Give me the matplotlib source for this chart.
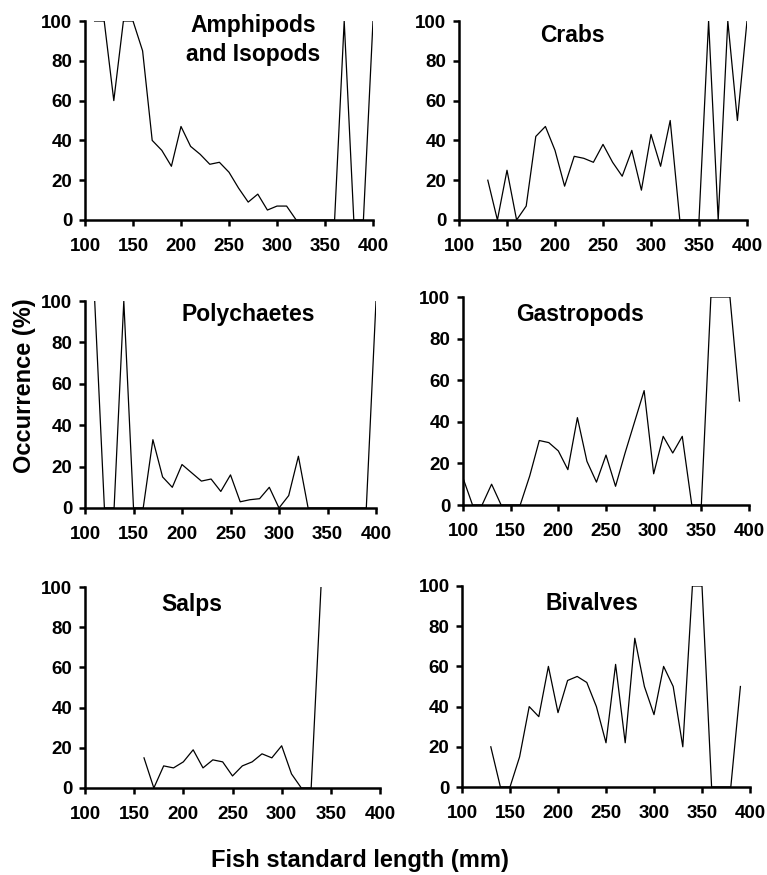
import numpy as np
import matplotlib
matplotlib.use("Agg")
import matplotlib.pyplot as plt

plt.rcParams['font.family'] = ['Liberation Sans', 'DejaVu Sans']
plt.rcParams['font.weight'] = 'bold'

nan = np.nan
lengths = np.arange(100, 401, 10)

amphipods = [nan, 100, 100, 60, 100, 100, 85, 40, 35, 27, 47, 37, 33, 28, 29, 24,
             16, 9, 13, 5, 7, 7, 0, 0, 0, 0, 0, 100, 0, 0, 100]
crabs = [nan, nan, nan, 20, 0, 25, 0, 7, 42, 47, 35, 17, 32, 31, 29, 38,
         29, 22, 35, 15, 43, 27, 50, 0, 0, 0, 100, 0, 100, 50, 100]
polychaetes = [nan, 100, 0, 0, 100, 0, 0, 33, 15, 10, 21, 17, 13, 14, 8, 16,
               3, 4, 4.5, 10, 0, 6, 25, 0, 0, 0, 0, 0, 0, 0, 100]
gastropods = [13, 0, 0, 10, 0, 0, 0, 14, 31, 30, 26, 17, 42, 21, 11, 24,
              9, 25, 40, 55, 15, 33, 25, 33, 0, 0, 100, 100, 100, 50, nan]
salps = [nan, nan, nan, nan, nan, nan, 15, 0, 11, 10, 13, 19, 10, 14, 13, 6,
         11, 13, 17, 15, 21, 7, 0, 0, 100, nan, nan, nan, nan, nan, nan]
bivalves = [nan, nan, nan, 20, 0, 0, 15, 40, 35, 60, 37, 53, 55, 52, 40, 22,
            61, 22, 74, 50, 36, 60, 50, 20, 100, 100, 0, 0, 0, 50, nan]

titles = ["Amphipods\nand Isopods", "Crabs", "Polychaetes",
          "Gastropods", "Salps", "Bivalves"]
series = [amphipods, crabs, polychaetes, gastropods, salps, bivalves]

W, H = 767, 875
# panel boxes in pixels: left, right, top, bottom
boxes = [(85, 373, 21, 220), (459, 747, 21, 220),
         (85, 376, 301, 508), (463, 749, 297, 505),
         (85, 380, 587, 788), (462, 750, 586, 787)]
title_pos = [(253, 40), (572, 35), (248, 315), (580, 315), (192, 604), (592, 603)]

fig = plt.figure(figsize=(W / 100, H / 100), dpi=100)

for (l, r, t, b), name, vals, (tx, ty) in zip(boxes, titles, series, title_pos):
    ax = fig.add_axes([l / W, 1 - b / H, (r - l) / W, (b - t) / H])
    ax.plot(lengths, vals, color='black', lw=0.9)
    ax.set_xlim(100, 400)
    ax.set_ylim(0, 100)
    ax.set_xticks(range(100, 401, 50))
    ax.set_yticks(range(0, 101, 20))
    for s in ['top', 'right']:
        ax.spines[s].set_visible(False)
    for s in ['left', 'bottom']:
        ax.spines[s].set_linewidth(1.8)
    ax.tick_params(direction='out', length=4, width=1.8, labelsize=13.5)
    ax.tick_params(axis='x', pad=9)
    ax.tick_params(axis='y', pad=5)
    for lab in ax.get_xticklabels() + ax.get_yticklabels():
        lab.set_fontweight('bold')
    fig.text(tx / W, 1 - ty / H, name, ha='center', va='center',
             fontsize=16.5, fontweight='bold', linespacing=1.35)

fig.text(24 / W, 1 - 386 / H, "Occurrence (%)", rotation=90, ha='center',
         va='center', fontsize=17, fontweight='bold')
fig.text(360 / W, 1 - 861 / H, "Fish standard length (mm)", ha='center',
         va='center', fontsize=17, fontweight='bold')

fig.savefig("out.png", dpi=100)
